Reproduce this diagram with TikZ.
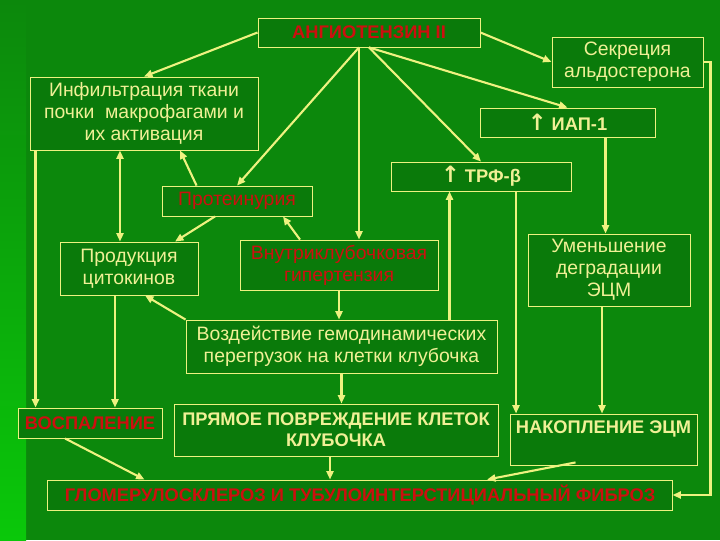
\documentclass[tikz,border=0pt]{standalone}
\usepackage{fontspec}
\setmainfont{Liberation Sans}
\newfontfamily\arrowfont{DejaVu Sans}
\usepackage{xcolor}
\usetikzlibrary{arrows.meta,positioning,calc}

\definecolor{bggreen}{RGB}{12,136,12}
\definecolor{boxgreen}{RGB}{10,122,10}
\definecolor{lightgreen}{RGB}{10,200,10}
\definecolor{paleyel}{RGB}{240,240,150}
\definecolor{lineyel}{RGB}{238,242,128}
\definecolor{darkred}{RGB}{205,15,15}

\newcommand{\uparr}{{\arrowfont\bfseries\fontsize{16}{16}\selectfont ↑}}

\tikzset{
  box/.style={draw=lineyel,line width=0.6pt,fill=boxgreen,rectangle,align=center,
    inner sep=0pt,text=paleyel,font=\fontsize{13.8}{15.5}\selectfont},
  bold/.style={font=\fontsize{13}{15}\selectfont\bfseries},
  redbox/.style={box,text=darkred},
  link/.style={draw=lineyel,line width=1.5pt,-{Triangle[length=6pt,width=5pt]}},
  both/.style={link,{Triangle[length=6pt,width=5pt]}-{Triangle[length=6pt,width=5pt]}}
}

\begin{document}
\begin{tikzpicture}[x=0.025cm,y=-0.025cm]
\useasboundingbox (0,0) rectangle (720,540);
\fill[bggreen] (0,0) rectangle (720,540);
\shade[top color=bggreen,bottom color=lightgreen] (0,0) rectangle (26,540);

% boxes
\node[redbox,bold,minimum width=5.55cm,minimum height=0.725cm] (angio) at (369,32.5) {АНГИОТЕНЗИН II};
\node[box,minimum width=3.775cm,minimum height=1.25cm] (sekr) at (627.5,62) {Секреция\\альдостерона};
\node[box,minimum width=5.7cm,minimum height=1.825cm] (infil) at (144,113.5) {Инфильтрация ткани\\почки \ макрофагами и\\их активация};
\node[box,bold,minimum width=4.375cm,minimum height=0.725cm] (iap) at (567.5,122.5) {\uparr\ ИАП-1};
\node[box,bold,minimum width=4.5cm,minimum height=0.725cm] (trf) at (481,176.5) {\uparr\ ТРФ-β};
\node[redbox,minimum width=3.75cm,minimum height=0.75cm] (prot) at (237,201) {Протеинурия};
\node[box,minimum width=3.45cm,minimum height=1.325cm] (prod) at (129,268.5) {Продукция\\цитокинов};
\node[redbox,minimum width=4.95cm,minimum height=1.25cm] (vnutr) at (339,265) {Внутриклубочковая\\гипертензия};
\node[box,minimum width=4.05cm,minimum height=1.8cm] (umen) at (609,270) {Уменьшение\\деградации\\ЭЦМ};
\node[box,minimum width=7.775cm,minimum height=1.325cm] (vozd) at (341.5,346.5) {Воздействие гемодинамических\\перегрузок на клетки клубочка};
\node[redbox,bold,minimum width=3.6cm,minimum height=0.75cm] (vospal) at (90,423) {ВОСПАЛЕНИЕ};
\node[box,bold,minimum width=8.1cm,minimum height=1.3cm] (pryam) at (336,430) {ПРЯМОЕ ПОВРЕЖДЕНИЕ КЛЕТОК\\КЛУБОЧКА};
\node[box,bold,minimum width=4.675cm,minimum height=1.275cm] (nakop) at (603.5,439.5) {НАКОПЛЕНИЕ ЭЦМ\\[2pt]\mbox{}};
\node[redbox,bold,minimum width=15.6cm,minimum height=0.75cm] (glom) at (360,495) {ГЛОМЕРУЛОСКЛЕРОЗ И ТУБУЛОИНТЕРСТИЦИАЛЬНЫЙ ФИБРОЗ};

% arrows from angiotensin
\draw[link] (angio.west) -- (infil.north);
\draw[link] (angio.east) -- (sekr.west);
\draw[link] (angio.south) -- (iap.north);
\draw[link] (angio.south) -- (trf.north);
\draw[link] ([xshift=-0.25cm]angio.south) -- (prot.north);
\draw[link] ([xshift=-0.25cm]angio.south) -- ([xshift=-0.25cm]angio.south |- vnutr.north);

% middle part
\draw[link] ([xshift=0.875cm]prot.north west) -- ([xshift=0.9cm]infil.south);
\draw[both] ([xshift=-0.6cm]infil.south) -- ([xshift=-0.6cm]infil.south |- prod.north);
\draw[link] ([xshift=0.15cm]infil.south west) -- ([xshift=0.15cm]infil.south west |- vospal.north);
\draw[link] ([xshift=-0.55cm]prot.south) -- ([xshift=1.15cm]prod.north);
\draw[link] ([xshift=-0.975cm]vnutr.north) -- ([xshift=1.15cm]prot.south);
\draw[link] (vnutr.south) -- (vnutr.south |- vozd.north);
\draw[link] ([xshift=2.7cm]vozd.north) -- ([xshift=2.7cm]vozd.north |- trf.south);
\draw[link] ([xshift=0.875cm]trf.south) -- ([xshift=0.875cm]trf.south |- nakop.north);
\draw[link] ([xshift=0.95cm]iap.south) -- ([xshift=0.95cm]iap.south |- umen.north);
\draw[link] ([xshift=-0.175cm]umen.south) -- ([xshift=-0.175cm]umen.south |- nakop.north);
\draw[link] (sekr.east) -- ++(0.175cm,0) |- (glom.east);
\draw[link] (vozd.north west) -- ([xshift=0.4cm]prod.south);
\draw[link] ([xshift=-0.35cm]prod.south) -- ([xshift=-0.35cm]prod.south |- vospal.north);
\draw[link] (vozd.south) -- (vozd.south |- pryam.north);

% into the last box
\draw[link] ([xshift=-0.625cm]vospal.south) -- ([xshift=2.425cm]glom.north west);
\draw[link] ([xshift=-0.15cm]pryam.south) -- ([xshift=-0.15cm]pryam.south |- glom.north);
\draw[link] ([xshift=-0.7cm,yshift=0.075cm]nakop.south) -- ([xshift=3.175cm]glom.north);
\end{tikzpicture}
\end{document}
